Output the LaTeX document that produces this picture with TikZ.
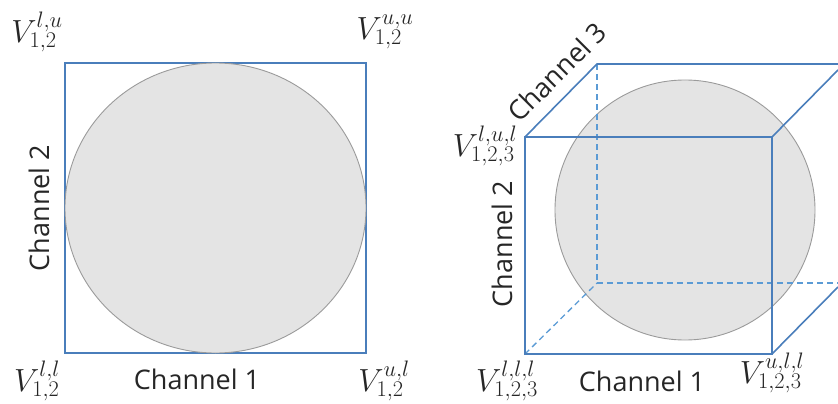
\documentclass[tikz,border=0pt]{standalone}
\usepackage{fix-cm}
\usepackage[no-math]{fontspec}
\setmainfont{Open Sans}
\definecolor{cubeblue}{RGB}{74,126,187}
\definecolor{dashblue}{RGB}{91,155,213}
\definecolor{ballgray}{RGB}{228,228,228}
\definecolor{ballline}{RGB}{155,155,155}
\begin{document}
\begin{tikzpicture}[x=1pt,y=-1pt,
  edge/.style={draw=cubeblue,line width=1.6pt},
  hidden/.style={draw=dashblue,line width=1.3pt,dash pattern=on 6pt off 4pt},
  ball/.style={fill=ballgray,draw=ballline,line width=0.9pt},
  chan/.style={font=\fontsize{27}{32}\selectfont,inner sep=0pt,text=black!85},
  vert/.style={font=\fontsize{32}{38}\selectfont,inner sep=0pt,text=black!85}]
\useasboundingbox (0,0) rectangle (838,404);
% ---------- left: square ----------
\coordinate (sLL) at (65,353);
\coordinate (sUR) at (366,63);
\draw[edge] (sLL) rectangle (sUR);
\draw[ball] (215.5,208) ellipse [x radius=150.5pt, y radius=145pt];
\node[vert] (vlu) at (37,32) {$V_{1,2}^{l,u}$};
\node[vert] (vuu) at (385,32) {$V_{1,2}^{u,u}$};
\node[vert] (vll) at (37,381) {$V_{1,2}^{l,l}$};
\node[vert] (vul) at (384,381) {$V_{1,2}^{u,l}$};
\node[chan] (c1a) at (197,379) {Channel 1};
\node[chan,rotate=90] (c2a) at (39,208) {Channel 2};
% ---------- right: cube ----------
\draw[ball] (685,210) circle [radius=130pt];
\coordinate (fLL) at (525,354);
\coordinate (fUL) at (525,137);
\coordinate (fUR) at (772,137);
\coordinate (fLR) at (772,354);
\coordinate (bUL) at (597,64);
\coordinate (bLL) at (597,283);
\coordinate (bUR) at (838,64);
\coordinate (bLR) at (838,283);
\coordinate (dUR) at (838,70);
\coordinate (dLR) at (838,287);
\draw[hidden] (bUL) -- (bLL);
\draw[hidden] (bLL) -- (bLR);
\draw[hidden] (fLL) -- (bLL);
\draw[edge] (fLL) rectangle (fUR);
\draw[edge] (fUL) -- (bUL) -- (bUR);
\draw[edge] (fUR) -- (dUR);
\draw[edge] (fLR) -- (dLR);
\node[vert] (vlul) at (485,146) {$V_{1,2,3}^{l,u,l}$};
\node[vert] (vlll) at (507,381) {$V_{1,2,3}^{l,l,l}$};
\node[vert] (vull) at (772,373) {$V_{1,2,3}^{u,l,l}$};
\node[chan] (c1b) at (642,381) {Channel 1};
\node[chan,rotate=90] (c2b) at (502,244) {Channel 2};
\node[chan,rotate=45] (c3b) at (557,72) {Channel 3};
\end{tikzpicture}
\end{document}
